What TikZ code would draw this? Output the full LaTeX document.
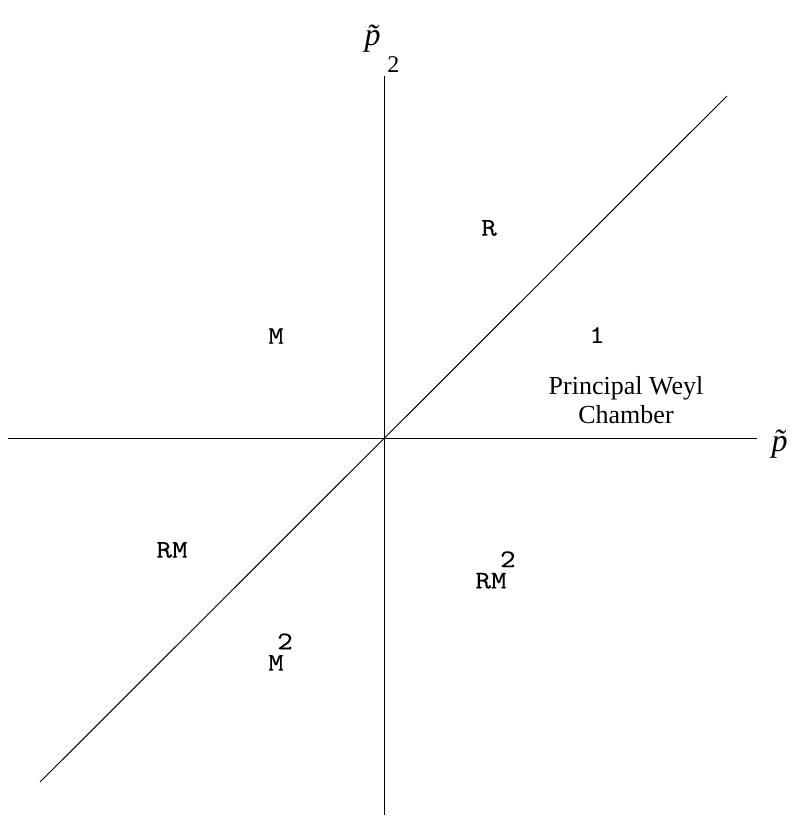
\documentclass[tikz,border=0pt]{standalone}
\usepackage{fontspec}
\setmainfont{Liberation Serif}
\newfontfamily\regionfont[FakeStretch=1.2,FakeBold=0.25]{Latin Modern Mono}
\begin{document}
\begin{tikzpicture}[x=0.75pt, y=-0.75pt,
  axis/.style={line width=0.75pt},
  region/.style={font=\regionfont\fontsize{19}{21}\selectfont, inner sep=0pt},
  axislabel/.style={font=\fontsize{24}{26}\selectfont, inner sep=0pt},
  chamber/.style={font=\fontsize{19.5}{22}\selectfont, align=center, inner sep=0pt},
]
\useasboundingbox (0,0) rectangle (792,816);
% ends of the axes and of the diagonal
\coordinate (O) at (384,438);
\coordinate (xl) at (8,438);
\coordinate (xr) at (757,438);
\coordinate (yb) at (384,815);
\coordinate (yt) at (384,76);
\coordinate (dl) at (40,782);
\coordinate (dr) at (727,96);

\draw[axis] (xl) -- (xr);
\draw[axis] (yb) -- (yt);
\draw[axis] (dl) -- (dr);

% axis labels
\node[axislabel, anchor=base] (p2) at (379,46) {\textit{\~p}\rlap{\kern-4.5pt\raisebox{-20pt}{\fontsize{18}{20}\selectfont 2}}};
\node[axislabel, anchor=base] (p1) at (786,451) {\textit{\~p}\rlap{\kern-4.5pt\raisebox{-20pt}{\fontsize{18}{20}\selectfont 1}}};

% regions
\node[region] (r)   at (489,228) {R};
\node[region] (m)   at (276,336) {M};
\node[region] (one) at (597,335) {1};
\node[chamber] (pwc) at (626,400) {Principal Weyl\\Chamber};
\node[region] (rm)  at (172,550) {RM};
\node[region] (rm2) at (491,570) {RM\rlap{\kern-5pt\raisebox{16pt}{2}}};
\node[region] (m2)  at (276,652) {M\rlap{\kern-5pt\raisebox{16pt}{2}}};
\end{tikzpicture}
\end{document}
